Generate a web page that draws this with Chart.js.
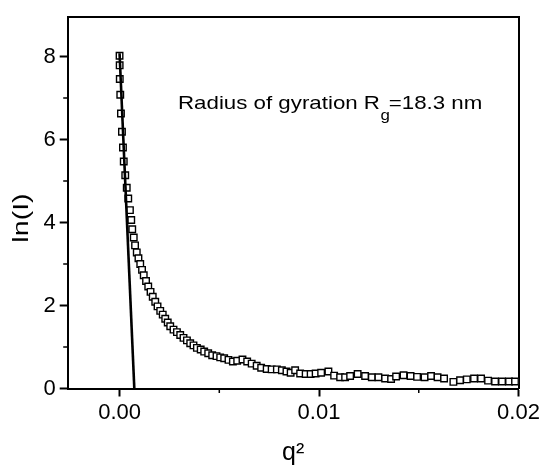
<!DOCTYPE html>
<html>
<head>
<meta charset="utf-8">
<script src="https://cdn.jsdelivr.net/npm/chart.js@4.4.1/dist/chart.umd.min.js"></script>
<style>
html,body{margin:0;padding:0;background:#fff;}
#wrap{width:543px;height:468px;position:relative;}
</style>
</head>
<body>
<div id="wrap"><canvas id="c" width="543" height="468"></canvas></div>
<script>
// ---- data ----
const q2 = [
  0.00000, 0.000005, 0.00001, 0.000035, 0.00007, 0.00012, 0.00017, 0.00021, 0.000285, 0.00036,
  0.000436, 0.00052, 0.000586, 0.000636, 0.000711, 0.000777, 0.000862, 0.000947, 0.001037, 0.001127,
  0.001212, 0.001328, 0.001438, 0.001553, 0.001663, 0.001789, 0.001904, 0.002039, 0.002164, 0.00229,
  0.002415, 0.00254, 0.002705, 0.002876, 0.003041, 0.003206, 0.003377, 0.003542, 0.003707, 0.003877,
  0.004068, 0.004243, 0.004444, 0.004644, 0.00486, 0.005045, 0.005245, 0.005461, 0.005681, 0.005897,
  0.006162, 0.006398, 0.006623, 0.006874, 0.007099, 0.007375, 0.007625, 0.007886, 0.008136, 0.008367,
  0.008577, 0.008802, 0.009053, 0.009329, 0.009579, 0.00983, 0.010105, 0.010471, 0.010757, 0.011058,
  0.011308, 0.011559, 0.011935, 0.01231, 0.012646, 0.012977, 0.013313, 0.013613, 0.013864, 0.014239,
  0.014589, 0.014916, 0.015292, 0.015617, 0.015943, 0.016269, 0.016735, 0.017071, 0.017407, 0.017772,
  0.018123, 0.018474, 0.018825, 0.019175, 0.019526, 0.019826
];
const lnI = [
  8.02, 7.79, 7.46, 7.08, 6.63, 6.19, 5.81, 5.47, 5.14, 4.84,
  4.58, 4.30, 4.06, 3.84, 3.64, 3.45, 3.28, 3.14, 3.00, 2.86,
  2.73, 2.59, 2.46, 2.33, 2.21, 2.09, 1.98, 1.87, 1.78, 1.68,
  1.59, 1.50, 1.42, 1.36, 1.29, 1.22, 1.16, 1.09, 1.04, 0.98,
  0.94, 0.89, 0.85, 0.80, 0.78, 0.75, 0.73, 0.69, 0.65, 0.67,
  0.70, 0.65, 0.60, 0.55, 0.50, 0.47, 0.46, 0.46, 0.44, 0.41,
  0.38, 0.44, 0.36, 0.35, 0.35, 0.36, 0.38, 0.41, 0.31, 0.27,
  0.27, 0.30, 0.35, 0.30, 0.27, 0.27, 0.24, 0.23, 0.29, 0.32,
  0.30, 0.28, 0.27, 0.30, 0.27, 0.24, 0.16, 0.20, 0.22, 0.24,
  0.24, 0.19, 0.17, 0.17, 0.17, 0.17
];
const fitQ2 = [0, 0.00074];
const fitLnI = [8.08, 0];
const xTicks = [0, 0.01, 0.02];
const xMinorTicks = [0.005, 0.015];
const yTicks = [0, 2, 4, 6, 8];
const yMinorTicks = [1, 3, 5, 7];
const xTitle = 'q\u00B2';
const yTitle = 'ln(I)';
const noteMain = 'Radius of gyration R';
const noteSub = 'g';
const noteTail = '=18.3 nm';

const FONT = "'Liberation Sans', Arial, sans-serif";

const extras = {
  id: 'extras',
  afterDraw(chart) {
    const ctx = chart.ctx;
    const xs = chart.scales.x, ys = chart.scales.y;
    const a = chart.chartArea;
    ctx.save();
    ctx.strokeStyle = '#000';
    ctx.lineWidth = 1.5;
    ctx.beginPath();
    xMinorTicks.forEach(v => {
      const p = xs.getPixelForValue(v);
      ctx.moveTo(p, a.bottom); ctx.lineTo(p, a.bottom + 4.5);
    });
    yMinorTicks.forEach(v => {
      const p = ys.getPixelForValue(v);
      ctx.moveTo(a.left - 4.5, p); ctx.lineTo(a.left, p);
    });
    ctx.stroke();
    ctx.restore();

    // y title
    ctx.save();
    ctx.fillStyle = '#000';
    ctx.translate(22, 218);
    ctx.rotate(-Math.PI / 2);
    ctx.scale(1.3, 1);
    ctx.font = '22px ' + FONT;
    ctx.textAlign = 'center';
    ctx.textBaseline = 'middle';
    ctx.fillText(yTitle, 0, 0);
    ctx.restore();

    // annotation
    ctx.save();
    ctx.fillStyle = '#000';
    ctx.translate(178, 109);
    ctx.scale(1.205, 1);
    ctx.textBaseline = 'alphabetic';
    ctx.textAlign = 'left';
    ctx.font = '18.5px ' + FONT;
    ctx.fillText(noteMain, 0, 0);
    const w1 = ctx.measureText(noteMain).width;
    ctx.font = '14px ' + FONT;
    ctx.fillText(noteSub, w1 + 0.5, 11);
    const w2 = ctx.measureText(noteSub).width;
    ctx.font = '18.5px ' + FONT;
    ctx.fillText(noteTail, w1 + w2 - 0.5, 0);
    ctx.restore();
  }
};

new Chart(document.getElementById('c'), {
  type: 'scatter',
  data: {
    datasets: [
      {
        type: 'line',
        data: fitQ2.map((x, i) => ({x, y: fitLnI[i]})),
        borderColor: '#000',
        borderWidth: 2.6,
        pointRadius: 0,
        fill: false,
        tension: 0
      },
      {
        data: q2.map((x, i) => ({x, y: lnI[i]})),
        showLine: false,
        pointStyle: 'rect',
        pointRadius: 4.6,
        pointBorderWidth: 1.4,
        pointBorderColor: '#000',
        pointBackgroundColor: '#fff'
      }
    ]
  },
  options: {
    responsive: false,
    animation: false,
    devicePixelRatio: 1,
    layout: {padding: 0},
    plugins: {legend: {display: false}, tooltip: {enabled: false}},
    scales: {
      x: {
        type: 'linear', position: 'bottom', min: -0.0026, max: 0.02,
        afterBuildTicks: s => { s.ticks = xTicks.map(v => ({value: v})); },
        afterFit: s => { s.height = 79.5; },
        ticks: {
          callback: v => Number(v).toFixed(2),
          font: {family: FONT, size: 22}, color: '#000', padding: 3,
          maxRotation: 0, autoSkip: false
        },
        grid: {display: true, drawOnChartArea: false, drawTicks: true, tickLength: 8, tickWidth: 2, tickColor: '#000'},
        border: {display: true, color: '#000', width: 2},
        title: {display: true, text: xTitle, color: '#000', font: {family: FONT, size: 25}, padding: {top: 0, bottom: 0}}
      },
      y: {
        type: 'linear', position: 'left', min: 0, max: 8.95,
        afterBuildTicks: s => { s.ticks = yTicks.map(v => ({value: v})); },
        afterFit: s => { s.width = 67.7; },
        ticks: {
          callback: v => String(v),
          font: {family: FONT, size: 22}, color: '#000', padding: 4
        },
        grid: {display: true, drawOnChartArea: false, drawTicks: true, tickLength: 8, tickWidth: 2, tickColor: '#000'},
        border: {display: true, color: '#000', width: 2}
      },
      x2: {
        type: 'linear', position: 'top', min: -0.0026, max: 0.02,
        afterFit: s => { s.height = 14; },
        ticks: {display: false},
        grid: {display: false, drawTicks: false},
        border: {display: true, color: '#000', width: 2}
      },
      y2: {
        type: 'linear', position: 'right', min: 0, max: 8.95,
        afterFit: s => { s.width = 24.5; },
        ticks: {display: false},
        grid: {display: false, drawTicks: false},
        border: {display: true, color: '#000', width: 2}
      }
    }
  },
  plugins: [extras]
});
</script>
</body>
</html>
